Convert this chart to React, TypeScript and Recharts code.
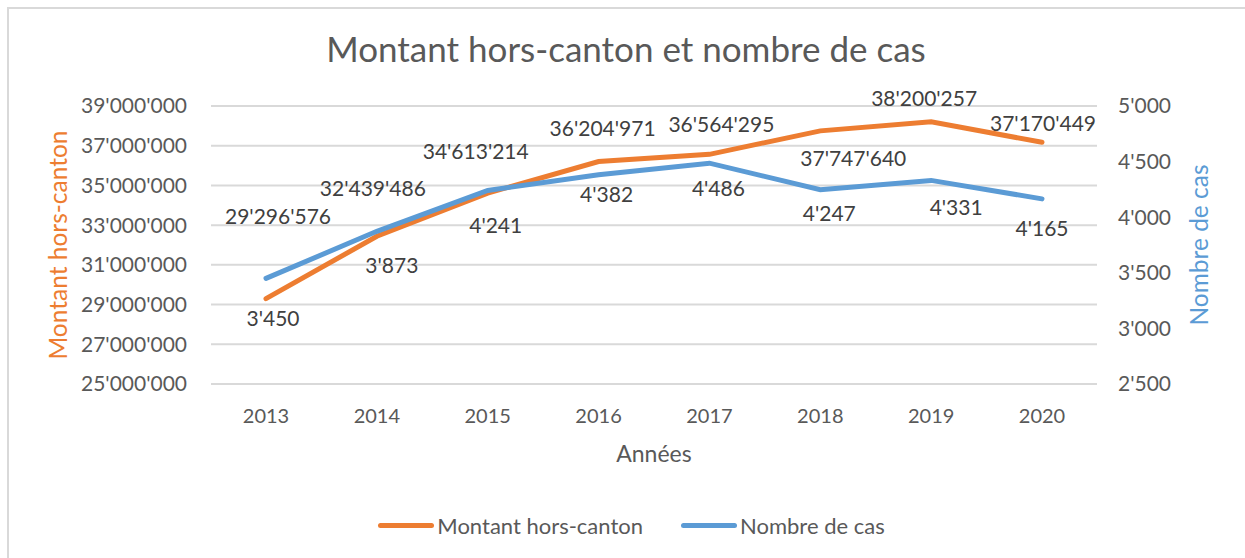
import { CartesianGrid, Legend, Line, LineChart, XAxis, YAxis } from "recharts";

const years = ["2013", "2014", "2015", "2016", "2017", "2018", "2019", "2020"];
const montant = [29296576, 32439486, 34613214, 36204971, 36564295, 37747640, 38200257, 37170449];
const cas = [3450, 3873, 4241, 4382, 4486, 4247, 4331, 4165];
const leftTicks = [25000000, 27000000, 29000000, 31000000, 33000000, 35000000, 37000000, 39000000];
const rightTicks = [2500, 3000, 3500, 4000, 4500, 5000];

// where Excel put the data labels, relative to the point
const montantLabelPos = [[12, -82], [-4, -48], [-12, -42], [4, -33], [12, -30], [33, 28], [-7, -23], [1, -19]];
const casLabelPos = [[7, 40], [15, 34], [8, 35], [8, 20], [9, 25], [9, 24], [25, 27], [0, 30]];

const data = years.map((annee, i) => ({ annee, montant: montant[i], cas: cas[i] }));

const ORANGE = "#ED7D31";
const BLUE = "#5B9BD5";
const GREY = "#595959";
const FONT = "Lato, 'Open Sans', sans-serif";

const fmt = (v: number) => String(Math.round(v)).replace(/\B(?=(\d{3})+(?!\d))/g, "'");

const dataLabel = (pos: number[][]) => (p: any) => {
  const [dx, dy] = pos[p.index] || [0, -20];
  return (
    <text
      key={p.index}
      x={p.x + dx}
      y={p.y + dy + 7.5}
      textAnchor="middle"
      fontSize={21}
      fontFamily={FONT}
      fill="#404040"
    >
      {fmt(p.value)}
    </text>
  );
};

const legendContent = () => (
  <div
    style={{
      height: 66,
      display: "flex",
      alignItems: "center",
      justifyContent: "center",
      fontFamily: FONT,
      fontSize: 22,
      color: GREY,
      paddingLeft: 18,
    }}
  >
    {[
      { name: "Montant hors-canton", color: ORANGE },
      { name: "Nombre de cas", color: BLUE },
    ].map((it, i) => (
      <span key={it.name} style={{ display: "flex", alignItems: "center", marginLeft: i ? 38 : 0 }}>
        <span style={{ width: 56, height: 5, borderRadius: 3, background: it.color, marginRight: 3 }} />
        {it.name}
      </span>
    ))}
  </div>
);

const axisTitle = (text: string, cx: number, color: string) => (p: any) => {
  const cy = p.viewBox.y + p.viewBox.height / 2;
  return (
    <text
      x={cx}
      y={cy}
      transform={`rotate(-90 ${cx} ${cy})`}
      textAnchor="middle"
      dominantBaseline="central"
      fontSize={24.5}
      fontFamily={FONT}
      fill={color}
    >
      {text}
    </text>
  );
};

export default function App() {
  return (
    <div style={{ position: "absolute", left: 0, top: 0, width: 1245, height: 558, background: "#fff", overflow: "hidden" }}>
      <div
        style={{
          position: "absolute",
          left: 7,
          top: 7,
          width: 1300,
          height: 600,
          borderLeft: "2px solid #D9D9D9",
          borderTop: "2px solid #D9D9D9",
        }}
      />
      <div
        style={{
          position: "absolute",
          top: 27,
          left: 0,
          width: 1252,
          textAlign: "center",
          fontFamily: FONT,
          fontSize: 35,
          lineHeight: "42px",
          color: GREY,
        }}
      >
        Montant hors-canton et nombre de cas
      </div>
      <LineChart
        width={1245}
        height={558}
        data={data}
        margin={{ top: 106, right: 0, bottom: 0, left: 0 }}
        style={{ position: "absolute", left: 0, top: 0 }}
      >
        <CartesianGrid yAxisId="left" vertical={false} stroke="#D9D9D9" strokeWidth={2} />
        <XAxis
          dataKey="annee"
          height={108}
          padding={{ left: 55, right: 55 }}
          axisLine={false}
          tickLine={false}
          tickMargin={19}
          tick={{ fill: GREY, fontSize: 20, fontFamily: FONT }}
          label={(p: any) => (
            <text
              x={p.viewBox.x + p.viewBox.width / 2}
              y={p.viewBox.y + 78}
              textAnchor="middle"
              fontSize={23}
              fontFamily={FONT}
              fill={GREY}
            >
              Années
            </text>
          )}
        />
        <YAxis
          yAxisId="left"
          width={211}
          domain={[25000000, 39000000]}
          ticks={leftTicks}
          tickFormatter={fmt}
          axisLine={false}
          tickLine={false}
          tickMargin={18}
          tick={{ fill: GREY, fontSize: 21, fontFamily: FONT }}
          label={axisTitle("Montant hors-canton", 57, ORANGE)}
        />
        <YAxis
          yAxisId="right"
          orientation="right"
          width={148}
          domain={[2500, 5000]}
          ticks={rightTicks}
          tickFormatter={fmt}
          axisLine={false}
          tickLine={false}
          tickMargin={15}
          tick={{ fill: GREY, fontSize: 21, fontFamily: FONT }}
          label={axisTitle("Nombre de cas", 1198, BLUE)}
        />
        <Legend verticalAlign="bottom" content={legendContent} />
        <Line
          yAxisId="left"
          type="linear"
          dataKey="montant"
          name="Montant hors-canton"
          stroke={ORANGE}
          strokeWidth={5}
          strokeLinecap="round"
          dot={false}
          isAnimationActive={false}
          label={dataLabel(montantLabelPos)}
        />
        <Line
          yAxisId="right"
          type="linear"
          dataKey="cas"
          name="Nombre de cas"
          stroke={BLUE}
          strokeWidth={5}
          strokeLinecap="round"
          dot={false}
          isAnimationActive={false}
          label={dataLabel(casLabelPos)}
        />
      </LineChart>
    </div>
  );
}
